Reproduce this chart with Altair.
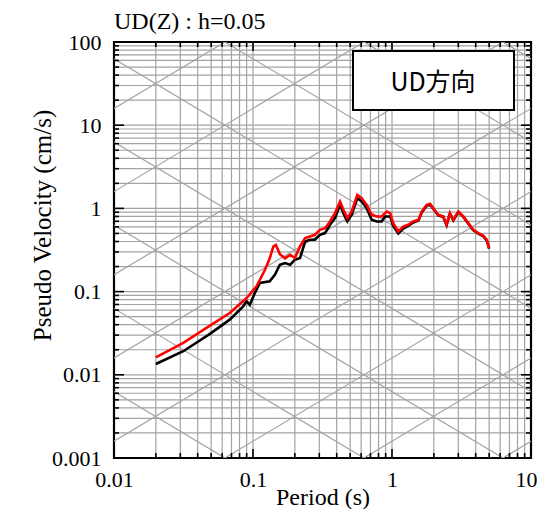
import math
import altair as alt
import pandas as pd

# ---- data ----
period_red = [0.02, 0.0315, 0.049, 0.068, 0.09, 0.106, 0.122, 0.132, 0.14, 0.146, 0.156, 0.17, 0.185, 0.2,
              0.218, 0.237, 0.257, 0.279, 0.303, 0.33, 0.358, 0.389, 0.423, 0.447, 0.477, 0.513, 0.563,
              0.605, 0.658, 0.714, 0.776, 0.843, 0.89, 0.92, 0.97, 1.02, 1.11, 1.21, 1.31, 1.42, 1.55,
              1.64, 1.78, 1.88, 1.98, 2.15, 2.34, 2.47, 2.61, 2.76, 3.0, 3.26, 3.54, 3.85, 4.18, 4.54, 4.8, 5.0]
vel_red = [0.0162, 0.0242, 0.039, 0.0553, 0.0838, 0.116, 0.183, 0.251, 0.347, 0.363, 0.282, 0.251, 0.277,
           0.253, 0.349, 0.44, 0.46, 0.482, 0.553, 0.579, 0.697, 0.877, 1.21, 0.962, 0.764, 0.918, 1.456,
           1.327, 1.104, 0.838, 0.8, 0.8, 0.877, 0.918, 0.877, 0.665, 0.528, 0.607, 0.636, 0.697, 0.729,
           0.918, 1.104, 1.135, 1.007, 0.838, 0.8, 0.636, 0.877, 0.729, 0.918, 0.8, 0.665, 0.553, 0.505,
           0.469, 0.42, 0.333]

period_black = [0.02, 0.0315, 0.049, 0.068, 0.085, 0.09, 0.095, 0.103, 0.112, 0.132, 0.144, 0.156, 0.17,
                0.185, 0.2, 0.218, 0.237, 0.257, 0.279, 0.303, 0.33, 0.358, 0.389, 0.423, 0.447, 0.477,
                0.513, 0.563, 0.605, 0.658, 0.714, 0.776, 0.843, 0.89, 0.97, 1.02, 1.11, 1.21, 1.31, 1.42,
                1.55, 1.64, 1.78, 1.88, 1.98, 2.15, 2.34, 2.47, 2.61, 2.76, 3.0, 3.26, 3.54, 3.85, 4.18,
                4.54, 4.8, 5.0]
vel_black = [0.0135, 0.0192, 0.031, 0.046, 0.0665, 0.0764, 0.0697, 0.096, 0.127, 0.133, 0.16, 0.21, 0.22,
             0.21, 0.242, 0.253, 0.40, 0.42, 0.42, 0.482, 0.505, 0.635, 0.764, 1.104, 0.877, 0.697, 0.838,
             1.327, 1.21, 1.007, 0.73, 0.697, 0.697, 0.80, 0.80, 0.617, 0.50, 0.575, 0.616, 0.676, 0.715,
             0.90, 1.08, 1.11, 0.99, 0.825, 0.79, 0.628, 0.865, 0.72, 0.905, 0.79, 0.655, 0.545, 0.498,
             0.462, 0.413, 0.328]

x_labels = [0.01, 0.1, 1, 10]
y_labels = [0.001, 0.01, 0.1, 1, 10, 100]
x_decades = [-2, -1, 0]
y_decades = [-3, -2, -1, 0, 1]
accel_exponents = list(range(-3, 5))      # constant acceleration lines (cm/s^2)
disp_exponents = list(range(-5, 3))       # constant displacement lines (cm)

title_text = "UD(Z) : h=0.05"
x_title = "Period (s)"
y_title = "Pseudo Velocity (cm/s)"
box_label = "UD方向"

# ---- derived tables ----
x_grid = [round(m * 10 ** e, 6) for e in x_decades for m in range(1, 10)][1:]
y_grid = [round(m * 10 ** e, 6) for e in y_decades for m in range(1, 10)][1:]
x_minor = [v for v in x_grid if v not in x_labels]
x_major = [v for v in x_grid if v in x_labels]
y_minor = [v for v in y_grid if v not in y_labels]
y_major = [v for v in y_grid if v in y_labels]

T_lo, T_hi = 0.01, 10.0
diag_rows = []
for a in accel_exponents:
    A = 10 ** a
    diag_rows.append({"T": T_lo, "V": A * T_lo / (2 * math.pi), "T2": T_hi, "V2": A * T_hi / (2 * math.pi)})
for d in disp_exponents:
    D = 10 ** d
    diag_rows.append({"T": T_lo, "V": 2 * math.pi * D / T_lo, "T2": T_hi, "V2": 2 * math.pi * D / T_hi})
diag = pd.DataFrame(diag_rows)

red = pd.DataFrame({"T": period_red, "V": vel_red})
black = pd.DataFrame({"T": period_black, "V": vel_black})

W, H = 417, 416
GRID = "#a3a3a3"
SERIF = "Liberation Serif"

xs = alt.Scale(type="log", domain=[0.01, 10], nice=False)
ys = alt.Scale(type="log", domain=[0.001, 100], nice=False)

x_axis = alt.Axis(values=x_labels, format="~g", grid=False, ticks=False, tickSize=0, domain=False,
                  labelFont=SERIF, labelFontSize=22, labelColor="black", labelPadding=11,
                  labelFlush=False, labelOverlap=False,
                  labelOffset={"condition": {"test": "datum.value >= 10", "value": -5}, "value": 0},
                  title=x_title, titleFont=SERIF, titleFontSize=24, titleFontWeight="normal",
                  titleColor="black", titlePadding=-5)
y_axis = alt.Axis(values=y_labels, format="~g", grid=False, ticks=False, tickSize=0, domain=False,
                  labelFont=SERIF, labelFontSize=22, labelColor="black", labelPadding=13,
                  labelFlush=False, labelOverlap=False,
                  title=y_title, titleFont=SERIF, titleFontSize=25, titleFontWeight="normal",
                  titleColor="black", titleX=-72, titleY=183, titleAngle=270,
                  titleAlign="center", titleBaseline="middle")


def X(field="T"):
    return alt.X(f"{field}:Q", scale=xs, axis=x_axis)


def Y(field="V"):
    return alt.Y(f"{field}:Q", scale=ys, axis=y_axis)


vgrid = alt.Chart(pd.DataFrame({"T": x_grid})).mark_rule(color=GRID, strokeWidth=1.2).encode(x=X())
hgrid = alt.Chart(pd.DataFrame({"V": y_grid})).mark_rule(color=GRID, strokeWidth=1.2).encode(y=Y())
diag_layer = alt.Chart(diag).mark_rule(color=GRID, strokeWidth=1.2, clip=True).encode(
    x=X(), x2="T2:Q", y=Y(), y2="V2:Q")


def xticks(vals, length):
    src = alt.Chart(pd.DataFrame({"T": vals}))
    top = src.mark_rule(color="black", strokeWidth=1.6).encode(
        x=X(), y=alt.value(0), y2=alt.value(length))
    bot = src.mark_rule(color="black", strokeWidth=1.6).encode(
        x=X(), y=alt.value(H), y2=alt.value(H - length))
    return [top, bot]


def yticks(vals, length):
    src = alt.Chart(pd.DataFrame({"V": vals}))
    left = src.mark_rule(color="black", strokeWidth=1.6).encode(
        y=Y(), x=alt.value(0), x2=alt.value(length))
    right = src.mark_rule(color="black", strokeWidth=1.6).encode(
        y=Y(), x=alt.value(W), x2=alt.value(W - length))
    return [left, right]


tick_layers = xticks(x_minor, 5) + xticks(x_major, 9) + yticks(y_minor, 5) + yticks(y_major, 10)

black_line = alt.Chart(black).mark_line(color="black", strokeWidth=2.6).encode(x=X(), y=Y())
red_line = alt.Chart(red).mark_line(color="#ff0000", strokeWidth=2.6).encode(x=X(), y=Y())

box = alt.Chart(pd.DataFrame({"label": [box_label]})).mark_rect(
    fill="white", stroke="black", strokeWidth=2).encode(
    x=alt.value(239), x2=alt.value(400), y=alt.value(9), y2=alt.value(68))
box_text = alt.Chart(pd.DataFrame({"label": [box_label]})).mark_text(
    font="Noto Sans CJK JP", fontSize=25, color="black", align="center", baseline="middle").encode(
    x=alt.value(319), y=alt.value(41), text="label:N")

chart = alt.layer(vgrid, hgrid, diag_layer, *tick_layers, black_line, red_line, box, box_text).properties(
    width=W, height=H,
    background="white",
    title=alt.TitleParams(title_text, anchor="start", font=SERIF, fontSize=24, fontWeight="normal",
                          color="black", offset=-3, dx=0, frame="group"),
    padding={"left": 106, "top": 34, "right": 7, "bottom": 51},
    autosize=alt.AutoSizeParams(type="none"),
).configure_view(stroke="black", strokeWidth=2.2)

chart.save("out.html", embed_options={"renderer": "svg", "actions": False})
